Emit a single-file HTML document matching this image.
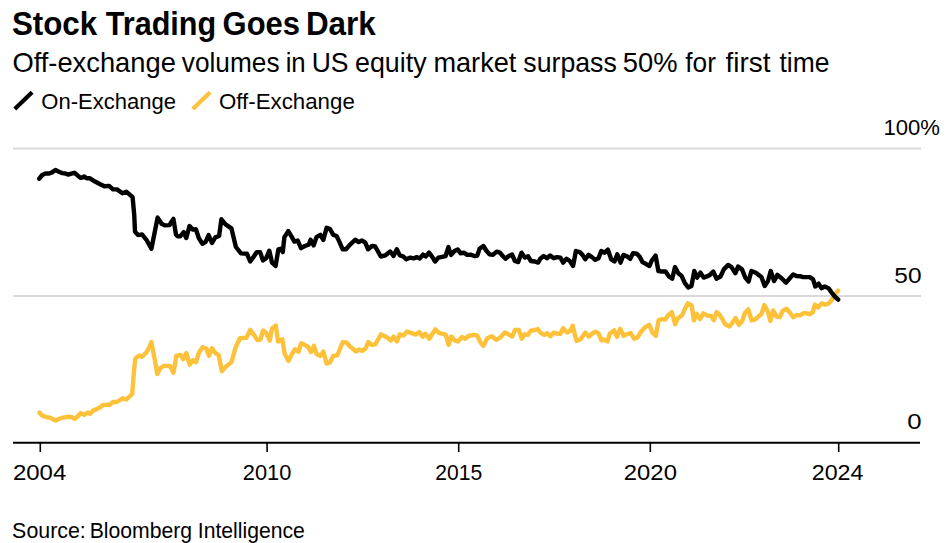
<!DOCTYPE html>
<html><head><meta charset="utf-8"><style>
html,body{margin:0;padding:0;background:#fff;}
body{width:947px;height:543px;overflow:hidden;position:relative;}
svg{position:absolute;left:0;top:0;}
text{font-family:"Liberation Sans",sans-serif;fill:#000;}
</style></head><body>
<svg width="947" height="543" viewBox="0 0 947 543">
<line x1="14.8" y1="108.9" x2="32.1" y2="92.3" stroke="#000" stroke-width="4.2"/>
<line x1="192.8" y1="108.9" x2="210.1" y2="92.3" stroke="#fdc13a" stroke-width="4.2"/>
<g stroke="#d9d9d9" stroke-width="2">
<line x1="13" y1="148.5" x2="921" y2="148.5"/>
<line x1="13" y1="296" x2="921" y2="296"/>
</g>
<path d="M39.4,412.6 L42.7,415.9 L46.6,417.2 L49.9,417.6 L52.7,419.0 L55.4,420.5 L58.7,419.0 L62.0,417.9 L65.4,417.2 L68.7,416.8 L72.0,417.2 L74.8,418.7 L77.5,416.5 L80.8,413.1 L84.1,414.8 L87.5,412.6 L90.2,413.7 L93.0,410.6 L96.3,409.3 L99.6,407.6 L103.5,404.9 L106.8,404.6 L109.4,405.0 L113.1,402.0 L116.8,402.0 L122.7,398.3 L126.4,399.5 L132.2,393.9 L133.7,374.8 L135.2,358.6 L138.9,355.6 L141.8,356.8 L146.2,352.7 L149.2,347.5 L151.4,342.1 L154.3,357.1 L157.3,374.0 L160.2,368.2 L163.9,365.9 L169.8,365.9 L173.5,372.6 L176.4,355.6 L180.8,354.9 L183.2,359.3 L186.4,353.1 L189.7,364.7 L192.9,360.2 L196.1,362.1 L198.7,353.1 L202.6,347.3 L206.4,348.6 L209.0,355.7 L212.0,348.2 L215.4,353.1 L218.7,355.1 L220.6,364.7 L221.9,371.2 L225.7,366.7 L231.5,362.1 L235.4,348.0 L239.9,338.3 L246.4,337.7 L250.2,329.9 L254.1,335.1 L257.3,340.0 L260.3,339.6 L263.1,330.5 L266.4,333.3 L269.7,340.7 L271.9,328.8 L275.8,325.5 L278.0,341.5 L282.4,339.3 L284.6,353.7 L288.5,360.9 L291.8,354.2 L295.1,349.3 L298.4,351.7 L301.2,343.2 L307.8,346.5 L311.1,352.0 L313.9,345.7 L316.7,354.2 L320.5,355.9 L323.3,351.5 L326.6,363.6 L329.9,362.5 L333.2,355.9 L337.3,355.4 L340.1,348.7 L342.8,342.1 L346.7,342.6 L350.0,346.5 L352.8,348.7 L356.1,351.5 L358.9,349.5 L362.2,350.9 L365.5,348.7 L368.3,342.1 L371.6,344.9 L375.4,344.3 L378.2,339.3 L381.0,334.4 L384.3,336.0 L388.1,338.2 L390.9,340.4 L393.7,336.6 L397.0,341.5 L399.7,334.4 L403.6,335.5 L406.9,331.6 L410.2,332.7 L416.0,334.6 L419.3,332.1 L422.6,336.8 L425.4,333.8 L429.2,338.7 L432.5,333.8 L435.3,329.4 L439.2,333.2 L443.0,333.8 L445.8,334.9 L448.6,344.8 L451.3,336.5 L454.6,340.4 L458.0,341.5 L461.8,337.1 L465.1,338.7 L468.5,336.0 L474.0,334.9 L477.3,335.7 L480.6,342.6 L483.4,345.9 L487.2,338.2 L491.9,336.2 L496.3,339.8 L500.2,337.6 L504.6,332.6 L508.4,334.3 L512.3,336.5 L515.1,329.9 L518.9,329.9 L521.7,338.7 L524.5,334.3 L527.8,334.9 L531.1,330.4 L534.4,330.2 L537.7,329.1 L541.0,333.2 L544.4,334.9 L547.1,333.2 L550.4,336.2 L553.7,332.6 L557.1,333.7 L560.4,333.7 L563.1,328.2 L567.2,332.6 L570.0,330.9 L572.7,325.7 L574.9,334.8 L576.6,340.9 L580.5,339.2 L585.4,332.6 L588.8,336.5 L592.1,333.7 L595.4,331.5 L598.7,333.7 L601.5,340.3 L604.8,339.8 L607.5,341.4 L609.8,333.7 L614.2,330.4 L616.9,337.0 L620.2,328.7 L623.6,335.9 L626.9,334.2 L630.7,333.1 L634.1,338.7 L637.4,337.6 L641.2,331.5 L645.3,327.1 L649.2,324.9 L652.5,332.6 L655.8,335.9 L658.6,320.4 L661.9,319.1 L665.2,319.6 L668.0,315.5 L671.8,312.1 L675.1,324.3 L677.9,318.2 L682.3,314.9 L685.1,308.3 L687.9,303.3 L691.7,305.5 L693.9,320.4 L696.7,313.8 L700.0,319.1 L703.3,313.3 L707.2,315.5 L711.1,316.0 L713.8,320.2 L716.6,312.1 L719.3,314.4 L721.8,318.2 L725.1,324.3 L729.5,326.5 L732.8,322.1 L735.6,318.0 L738.9,324.9 L742.2,321.0 L745.0,312.7 L748.3,309.4 L751.6,320.4 L754.9,319.6 L758.2,316.6 L761.5,314.0 L764.3,305.0 L767.6,311.0 L770.4,321.0 L773.1,310.5 L776.5,316.6 L779.8,317.1 L782.5,311.0 L786.4,308.8 L790.3,313.3 L793.3,317.1 L796.6,315.0 L799.9,315.4 L803.3,313.3 L806.6,313.3 L809.9,314.2 L812.8,312.1 L814.9,304.6 L818.2,307.5 L821.5,303.4 L824.8,304.6 L828.1,303.8 L831.4,300.5 L834.7,294.7 L838.1,290.6" fill="none" stroke="#fdc13a" stroke-width="4.4" stroke-linejoin="round" stroke-linecap="round"/>
<path d="M39.2,178.7 L42.2,175.0 L45.5,173.5 L49.2,173.5 L52.1,172.4 L55.4,170.0 L59.5,172.0 L62.4,173.1 L65.4,173.5 L68.3,174.6 L71.3,173.7 L74.6,172.8 L77.9,175.7 L80.8,177.9 L84.2,176.4 L86.7,178.3 L89.6,178.1 L95.0,181.6 L99.7,183.9 L104.4,186.2 L109.1,185.9 L113.0,189.4 L117.0,189.4 L122.4,193.3 L126.3,191.7 L132.6,197.2 L134.2,214.4 L135.0,231.6 L138.1,235.1 L142.0,234.4 L146.7,240.2 L151.4,248.8 L154.5,233.2 L157.6,217.6 L161.6,223.8 L164.7,225.4 L169.5,225.1 L171.4,221.9 L173.4,218.9 L176.0,234.7 L177.9,236.4 L180.2,236.4 L183.7,232.2 L186.3,238.0 L189.5,226.1 L192.7,229.6 L195.9,229.2 L198.8,238.0 L202.4,243.8 L205.6,241.8 L208.6,235.1 L212.0,242.9 L215.3,237.3 L219.1,236.0 L221.4,219.3 L225.6,224.4 L231.4,228.3 L235.9,247.0 L241.0,253.4 L246.9,253.7 L250.2,261.5 L253.5,257.0 L256.8,252.1 L260.1,252.1 L262.9,260.4 L266.2,258.1 L269.3,250.7 L272.0,262.6 L275.6,265.9 L278.4,249.3 L281.1,248.7 L282.8,252.1 L284.4,237.1 L288.3,231.1 L291.6,236.6 L294.4,241.6 L297.7,240.5 L301.0,248.2 L304.9,246.0 L308.7,244.6 L310.6,239.9 L313.7,245.4 L316.5,237.1 L320.3,234.9 L323.3,239.9 L326.6,227.8 L329.9,228.9 L333.3,234.9 L336.6,236.0 L339.3,241.6 L342.7,249.3 L346.0,249.3 L349.8,244.9 L355.4,239.7 L358.7,242.1 L362.0,240.5 L365.3,242.7 L368.1,249.3 L371.9,246.0 L375.2,246.5 L380.8,256.5 L385.2,255.4 L390.2,251.5 L393.5,255.9 L396.8,249.3 L399.8,255.4 L403.1,256.3 L406.4,259.3 L410.3,257.6 L413.6,258.4 L416.9,257.1 L419.7,258.5 L423.0,254.6 L425.7,256.5 L429.0,252.7 L432.4,257.1 L435.1,261.5 L438.4,257.6 L442.3,256.8 L445.6,256.0 L448.4,247.1 L451.1,254.9 L454.5,251.0 L457.8,249.4 L460.5,253.2 L463.9,252.7 L467.2,254.9 L470.5,254.6 L474.3,256.0 L477.3,255.7 L479.5,248.8 L483.4,246.0 L486.2,250.5 L489.5,254.3 L492.8,254.9 L496.7,251.6 L500.0,252.7 L502.7,256.0 L505.5,258.7 L508.8,256.0 L512.1,254.6 L514.9,261.0 L518.2,262.1 L521.5,252.7 L524.8,257.6 L528.1,256.3 L530.9,261.0 L534.8,261.5 L538.1,262.6 L540.3,258.7 L543.6,256.0 L546.9,258.2 L550.2,255.4 L553.8,258.2 L557.1,257.1 L560.4,257.6 L563.2,262.6 L566.5,258.7 L569.8,261.0 L573.1,265.9 L575.9,251.0 L579.7,252.1 L582.5,254.9 L585.3,259.3 L588.6,254.9 L591.9,257.1 L595.2,259.9 L598.5,258.2 L601.3,251.0 L604.6,252.7 L607.9,249.7 L611.2,259.3 L614.5,261.5 L617.3,254.3 L620.6,262.6 L623.4,254.9 L627.2,256.5 L630.2,258.8 L633.0,253.3 L636.8,253.8 L639.6,256.6 L642.4,262.1 L645.7,263.8 L649.5,266.0 L651.8,260.5 L655.6,255.7 L658.4,271.0 L661.7,271.5 L665.6,271.5 L668.9,276.5 L672.2,278.7 L675.0,267.1 L678.3,273.2 L681.6,275.9 L684.9,283.1 L688.2,287.5 L691.5,285.9 L694.3,271.0 L697.1,277.6 L700.4,272.6 L703.7,277.6 L709.4,275.4 L713.3,271.6 L716.6,278.7 L720.5,276.5 L723.8,269.4 L728.2,264.9 L731.5,267.1 L735.4,273.2 L738.1,266.6 L742.0,269.4 L745.3,277.6 L748.6,281.5 L751.4,271.0 L755.8,272.7 L761.4,277.1 L764.7,285.9 L768.0,281.0 L770.7,271.0 L774.1,281.0 L777.4,274.9 L781.6,278.2 L786.0,282.6 L789.4,278.8 L793.2,274.4 L796.5,276.0 L799.9,276.2 L803.2,277.1 L806.5,277.1 L809.8,277.1 L813.1,279.3 L815.3,286.5 L818.6,283.7 L821.4,288.2 L824.7,286.5 L828.6,288.2 L832.5,293.7 L835.2,297.0 L838.2,299.6" fill="none" stroke="#000" stroke-width="4.4" stroke-linejoin="round" stroke-linecap="round"/>
<line x1="13" y1="442.8" x2="920" y2="442.8" stroke="#000" stroke-width="2"/>
<g stroke="#000" stroke-width="1.6">
<line x1="40.3" y1="442" x2="40.3" y2="452"/>
<line x1="267.1" y1="442" x2="267.1" y2="452"/>
<line x1="458.7" y1="442" x2="458.7" y2="452"/>
<line x1="650.3" y1="442" x2="650.3" y2="452"/>
<line x1="838.7" y1="442" x2="838.7" y2="452"/>
</g>
<text x="11.89" y="34.90" font-size="32.6" font-weight="bold" textLength="85.28" lengthAdjust="spacingAndGlyphs">Stock</text>
<text x="105.75" y="34.90" font-size="32.6" font-weight="bold" textLength="110.47" lengthAdjust="spacingAndGlyphs">Trading</text>
<text x="222.62" y="34.90" font-size="32.6" font-weight="bold" textLength="77.32" lengthAdjust="spacingAndGlyphs">Goes</text>
<text x="305.89" y="34.90" font-size="32.6" font-weight="bold" textLength="69.85" lengthAdjust="spacingAndGlyphs">Dark</text>
<text x="12.41" y="71.70" font-size="27.4" textLength="163.45" lengthAdjust="spacingAndGlyphs">Off-exchange</text>
<text x="181.85" y="71.70" font-size="27.4" textLength="97.66" lengthAdjust="spacingAndGlyphs">volumes</text>
<text x="285.65" y="71.70" font-size="27.4" textLength="20.06" lengthAdjust="spacingAndGlyphs">in</text>
<text x="311.66" y="71.70" font-size="27.4" textLength="36.83" lengthAdjust="spacingAndGlyphs">US</text>
<text x="355.00" y="71.70" font-size="27.4" textLength="71.61" lengthAdjust="spacingAndGlyphs">equity</text>
<text x="433.45" y="71.70" font-size="27.4" textLength="82.92" lengthAdjust="spacingAndGlyphs">market</text>
<text x="523.33" y="71.70" font-size="27.4" textLength="93.47" lengthAdjust="spacingAndGlyphs">surpass</text>
<text x="622.85" y="71.70" font-size="27.4" textLength="54.76" lengthAdjust="spacingAndGlyphs">50%</text>
<text x="685.31" y="71.70" font-size="27.4" textLength="30.63" lengthAdjust="spacingAndGlyphs">for</text>
<text x="725.60" y="71.70" font-size="27.4" textLength="45.00" lengthAdjust="spacingAndGlyphs">first</text>
<text x="779.51" y="71.70" font-size="27.4" textLength="49.95" lengthAdjust="spacingAndGlyphs">time</text>
<text x="41.39" y="108.50" font-size="21.8" textLength="134.67" lengthAdjust="spacingAndGlyphs">On-Exchange</text>
<text x="219.01" y="108.50" font-size="21.8" textLength="135.78" lengthAdjust="spacingAndGlyphs">Off-Exchange</text>
<text x="883.48" y="135.00" font-size="21.8" textLength="56.50" lengthAdjust="spacingAndGlyphs">100%</text>
<text x="894.30" y="283.20" font-size="21.8" textLength="27.20" lengthAdjust="spacingAndGlyphs">50</text>
<text x="907.17" y="429.00" font-size="21.8" textLength="14.33" lengthAdjust="spacingAndGlyphs">0</text>
<text x="12.92" y="480.30" font-size="21.8" textLength="53.44" lengthAdjust="spacingAndGlyphs">2004</text>
<text x="242.80" y="480.30" font-size="21.8" textLength="48.57" lengthAdjust="spacingAndGlyphs">2010</text>
<text x="435.25" y="480.30" font-size="21.8" textLength="46.88" lengthAdjust="spacingAndGlyphs">2015</text>
<text x="623.87" y="480.30" font-size="21.8" textLength="53.04" lengthAdjust="spacingAndGlyphs">2020</text>
<text x="811.79" y="480.30" font-size="21.8" textLength="51.61" lengthAdjust="spacingAndGlyphs">2024</text>
<text x="12.14" y="538.00" font-size="21.2" textLength="73.69" lengthAdjust="spacingAndGlyphs">Source:</text>
<text x="89.65" y="538.00" font-size="21.2" textLength="102.51" lengthAdjust="spacingAndGlyphs">Bloomberg</text>
<text x="197.75" y="538.00" font-size="21.2" textLength="107.05" lengthAdjust="spacingAndGlyphs">Intelligence</text>
</svg>
</body></html>
